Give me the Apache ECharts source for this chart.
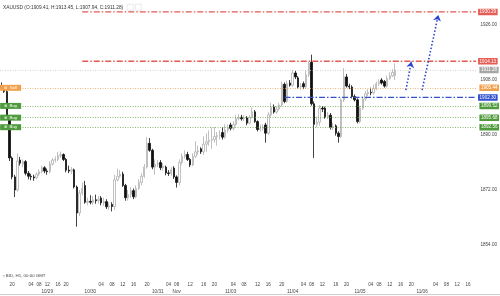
<!DOCTYPE html>
<html><head><meta charset="utf-8">
<script src="https://cdn.jsdelivr.net/npm/echarts@6/dist/echarts.min.js"></script>
<style>html,body{margin:0;padding:0;background:#fff}#c{width:500px;height:296px}</style>
</head><body><div id="c"></div>
<script>
// ---- data ----
const opens = [1906.0,1905.6,1904.2,1896.0,1882.5,1876.3,1872.0,1881.8,1880.5,1881.3,1877.5,1876.5,1876.3,1876.0,1877.2,1878.0,1879.3,1878.2,1878.0,1880.5,1881.8,1882.0,1883.2,1883.6,1882.0,1878.5,1878.2,1878.6,1873.0,1864.5,1871.0,1873.5,1868.0,1868.3,1868.0,1868.8,1868.5,1869.4,1867.8,1868.2,1866.5,1867.3,1866.6,1875.3,1876.5,1877.2,1873.5,1869.5,1870.5,1871.8,1869.8,1872.5,1874.5,1876.5,1879.5,1887.3,1885.0,1879.5,1880.5,1881.0,1879.3,1879.5,1877.6,1877.4,1879.2,1876.3,1874.5,1881.0,1883.0,1883.6,1882.0,1880.2,1883.0,1884.5,1885.5,1884.5,1887.0,1887.8,1888.3,1888.5,1889.5,1889.8,1890.8,1889.3,1891.6,1893.3,1892.2,1893.5,1895.4,1895.8,1895.3,1895.6,1893.9,1895.7,1897.6,1894.4,1891.8,1892.2,1893.3,1890.6,1896.6,1899.2,1897.5,1898.5,1899.8,1906.6,1901.0,1907.0,1906.3,1910.3,1908.7,1905.7,1906.8,1905.8,1909.7,1913.8,1900.2,1893.5,1894.2,1898.8,1898.8,1896.0,1896.5,1892.5,1893.0,1890.6,1889.5,1901.5,1909.0,1906.0,1905.7,1902.6,1901.5,1894.4,1898.8,1901.8,1903.5,1904.0,1903.8,1905.2,1906.8,1908.0,1907.5,1906.0,1908.5,1909.4,1909.41];
const highs = [1907.2,1906.2,1904.8,1896.5,1883.0,1877.0,1884.0,1882.8,1882.0,1881.8,1878.2,1877.3,1877.0,1877.8,1878.8,1880.0,1879.8,1879.0,1881.5,1882.5,1883.0,1884.5,1884.6,1884.0,1882.5,1880.0,1879.5,1879.0,1873.5,1872.0,1874.5,1875.0,1869.5,1870.3,1870.0,1870.5,1870.0,1870.0,1869.5,1869.0,1868.0,1868.0,1877.0,1879.0,1878.5,1878.0,1874.0,1872.0,1873.0,1872.5,1873.5,1875.5,1877.5,1880.5,1889.3,1889.0,1885.5,1882.0,1881.8,1881.8,1880.8,1880.0,1878.5,1879.5,1879.8,1876.8,1882.0,1884.0,1885.0,1884.5,1882.5,1884.0,1888.0,1886.5,1886.0,1889.5,1890.5,1891.5,1892.5,1892.6,1891.0,1891.5,1892.5,1893.5,1893.5,1894.0,1894.5,1896.5,1896.8,1896.6,1896.5,1896.2,1896.5,1899.0,1898.2,1894.8,1893.5,1893.5,1894.0,1897.5,1900.5,1900.0,1899.5,1900.5,1907.5,1907.2,1907.8,1908.0,1911.3,1911.0,1909.3,1907.0,1907.5,1911.0,1914.0,1916.3,1901.0,1896.0,1899.8,1899.5,1899.3,1897.5,1897.2,1894.0,1893.5,1891.2,1902.0,1911.9,1910.0,1906.8,1906.3,1903.3,1902.0,1899.5,1902.5,1904.5,1905.0,1905.5,1906.5,1907.5,1908.2,1908.6,1908.0,1909.5,1910.5,1911.5,1913.45];
const lows = [1905.2,1903.8,1895.0,1881.5,1875.5,1869.7,1871.5,1880.0,1879.5,1876.8,1875.5,1875.2,1875.0,1875.5,1876.5,1877.5,1877.5,1877.0,1877.5,1880.0,1881.0,1881.5,1882.5,1881.5,1877.8,1877.5,1877.2,1872.5,1860.0,1863.5,1870.2,1867.5,1867.0,1867.3,1867.2,1867.5,1867.6,1867.0,1866.8,1865.8,1865.5,1865.0,1865.5,1874.8,1876.0,1873.0,1868.5,1868.5,1869.5,1869.0,1869.3,1872.0,1873.5,1876.0,1879.0,1884.5,1878.8,1877.0,1879.5,1878.5,1878.3,1876.8,1876.6,1876.7,1875.6,1872.8,1873.5,1880.3,1882.3,1881.5,1879.5,1879.8,1882.5,1883.5,1883.8,1883.5,1884.5,1886.5,1885.5,1887.5,1886.5,1888.5,1888.5,1888.8,1890.8,1891.5,1891.5,1893.0,1894.8,1894.7,1894.6,1893.2,1893.5,1895.4,1894.0,1891.2,1891.2,1891.5,1887.5,1890.0,1896.0,1897.0,1897.0,1898.0,1899.3,1900.4,1900.5,1905.8,1905.8,1908.3,1905.2,1904.8,1905.0,1905.2,1909.0,1899.6,1882.5,1892.5,1893.0,1897.5,1895.3,1895.2,1891.8,1891.6,1889.8,1887.5,1889.0,1900.8,1905.5,1905.0,1902.0,1901.0,1893.8,1893.8,1898.2,1901.2,1902.8,1903.0,1903.2,1904.7,1906.0,1906.5,1905.5,1905.5,1908.0,1909.0,1907.94];
const closes = [1905.6,1904.2,1896.0,1882.5,1876.3,1872.0,1881.5,1880.8,1881.3,1877.5,1876.5,1876.3,1876.0,1877.2,1878.0,1879.3,1878.2,1878.0,1880.5,1881.8,1882.0,1883.2,1883.6,1882.0,1878.5,1878.2,1878.6,1873.0,1864.5,1871.0,1872.5,1868.0,1868.3,1868.0,1868.8,1868.5,1869.0,1867.8,1868.2,1866.5,1866.8,1866.6,1875.3,1876.5,1877.2,1873.5,1869.5,1870.5,1871.8,1869.8,1872.5,1874.5,1876.5,1879.5,1887.3,1885.0,1879.5,1880.5,1880.8,1879.3,1879.8,1877.6,1877.4,1878.6,1876.3,1874.5,1881.0,1883.0,1883.6,1882.0,1880.2,1883.0,1884.5,1884.8,1884.5,1887.0,1887.8,1888.3,1888.5,1889.5,1889.8,1890.0,1889.3,1891.6,1892.3,1892.2,1893.5,1895.4,1895.8,1895.3,1895.6,1893.9,1895.7,1897.6,1894.4,1891.8,1892.2,1892.6,1890.6,1896.6,1899.2,1897.5,1898.5,1899.8,1906.6,1901.0,1906.8,1906.3,1910.3,1909.0,1905.7,1906.0,1905.8,1909.7,1913.5,1900.2,1893.5,1894.2,1898.8,1898.5,1896.0,1896.5,1892.5,1892.8,1890.6,1889.5,1901.5,1909.0,1906.0,1905.7,1902.6,1901.5,1894.4,1898.8,1901.8,1903.5,1904.0,1903.8,1905.2,1906.8,1907.3,1907.0,1906.0,1908.5,1909.4,1910.5,1911.28];
const totalSlots = 177;            // hourly slots incl. empty future area
const hourTicks = [[4,'20'],[11,'04'],[14,'08'],[17,'12'],[21,'16'],[24,'20'],[37,'04'],[41,'08'],[45,'12'],[49,'16'],[54,'20'],[62,'04'],[65,'08'],[70,'12'],[75,'16'],[79,'20'],[86,'04'],[90,'08'],[95,'12'],[99,'16'],[104,'20'],[112,'04'],[115,'08'],[119,'12'],[124,'16'],[128,'20'],[137,'04'],[140,'08'],[144,'12'],[148,'16'],[152,'20'],[161,'04'],[165,'08'],[169,'12'],[173,'16']];
const dateTicks = [[17,'10/29'],[33,'10/30'],[58,'10/31'],[65,'Nov'],[85,'11/03'],[108,'11/04'],[133,'11/05'],[156,'11/06']];
const yTicks = [1854, 1872, 1890, 1908, 1926];
const resistLevels = [1930.29, 1914.13];   // red dash-dot
const resistStart = 30;
const lastPrice = 1911.28;
const sellLevel = 1905.44;
const entryLevel = 1902.30;               // blue dash-dot
const entryStart = 105;
const buyLevels = [1899.52, 1895.68, 1892.56];
const arrowFrom = [[150, 1904.7], [156, 1904.7]];
const arrowTo = [[152, 1914.0], [162, 1929.3]];

// ---- chart ----
const FONT = 'Liberation Sans, Arial, sans-serif';
const slots = Array.from({length: totalSlots}, (_, i) => String(i));
const candles = opens.map((o, i) => [o, closes[i], lows[i], highs[i]]);
const hourMap = new Map(hourTicks);
const dateMap = new Map(dateTicks);
const lastIdx = totalSlots - 1;

function boxLabel(bg) {
  return {show: true, position: 'end', distance: 2, formatter: p => Number(p.value).toFixed(2),
    color: '#fff', backgroundColor: bg, fontSize: 4.6, fontFamily: FONT,
    padding: [1, 1.5, 0.5, 1.5], borderRadius: 0.5};
}
const dotted = (c) => ({color: c, width: 0.8, type: [1, 1.5], opacity: 1});

function markSeries(name, markLine) {
  return {type: 'line', name, data: [], xAxisIndex: 0, yAxisIndex: 0, silent: true,
    markLine: Object.assign({silent: true, symbol: ['none', 'none'], animation: false}, markLine)};
}
// horizontal level drawn as a line series through the axes, with its price tag as end label
function levelSeries(name, start, v, color, bg) {
  return {type: 'line', name, silent: true, symbol: 'none', z: 4,
    data: [[String(start), v], [String(lastIdx), v]],
    lineStyle: {color: color, width: 1.3, type: [6, 2, 1.5, 2]},
    endLabel: {show: true, distance: 2, formatter: () => v.toFixed(2), color: '#fff', backgroundColor: bg,
      fontSize: 4.6, fontFamily: FONT, padding: [1, 1.5, 0.5, 1.5], borderRadius: 0.5}};
}

const tagPoints = [];
tagPoints.push({coord: ['3', sellLevel], value: 'Sell', itemStyle: {color: '#f3a04c'}});
buyLevels.forEach(v => tagPoints.push({coord: ['3', v], value: 'Buy', itemStyle: {color: '#4f9a3c'}}));

const chart = echarts.init(document.getElementById('c'), null, {renderer: 'canvas'});
chart.setOption({
  animation: false,
  backgroundColor: '#fff',
  textStyle: {fontFamily: FONT},
  grid: {left: 0, right: 22, top: 0, bottom: 18, containLabel: false},
  xAxis: [{
    type: 'category', data: slots, boundaryGap: true,
    axisLine: {show: false}, axisTick: {show: false}, splitLine: {show: false},
    axisLabel: {interval: (i) => hourMap.has(i), formatter: (v, i) => hourMap.get(i) || '',
      fontSize: 4.6, color: '#444', margin: 4, fontFamily: FONT}
  }, {
    type: 'category', data: slots, boundaryGap: true, position: 'bottom', offset: 7,
    axisLine: {show: false}, axisTick: {show: false}, splitLine: {show: false},
    axisLabel: {interval: (i) => dateMap.has(i), formatter: (v, i) => dateMap.get(i) || '',
      fontSize: 4.6, color: '#444', margin: 4, fontFamily: FONT}
  }],
  yAxis: {
    type: 'value', position: 'right', min: 1843.21, max: 1934.18, scale: true,
    axisLine: {show: false}, axisTick: {show: false}, splitLine: {show: false},
    axisLabel: {customValues: yTicks, formatter: v => v.toFixed(2), fontSize: 4.6, color: '#444', margin: 3, fontFamily: FONT}
  },
  series: [
    markSeries('lastPrice', {lineStyle: dotted('#c8c8c8'), label: boxLabel('#a6a6a6'), data: [{yAxis: lastPrice}]}),
    markSeries('sell', {lineStyle: dotted('#eaa55c'), label: boxLabel('#f0a150'), data: [{yAxis: sellLevel}]}),
    markSeries('buys', {lineStyle: dotted('#6aa84f'), label: boxLabel('#4f9a3c'), data: buyLevels.map(v => ({yAxis: v}))}),
    levelSeries('resist1', resistStart, resistLevels[0], '#e05a52', '#e45e55'),
    levelSeries('resist2', resistStart, resistLevels[1], '#e05a52', '#e45e55'),
    levelSeries('entry', entryStart, entryLevel, '#3552c8', '#2f50d0'),
    {
      type: 'candlestick', xAxisIndex: 0, data: candles, barWidth: 1.9, z: 3,
      itemStyle: {color: '#ffffff', color0: '#111111', borderColor: '#b0b0b0', borderColor0: '#111111', borderWidth: 0.8},
      markPoint: {silent: true, symbol: 'rect', symbolSize: [21, 6], symbolOffset: [1.2, 0],
        label: {show: true, formatter: p => '\u2297  ' + p.value, color: '#fff', fontSize: 4.4, fontFamily: FONT},
        data: tagPoints}
    },
    markSeries('arrows', {symbol: ['none', 'arrow'], symbolSize: 6, lineStyle: {color: '#2a45cc', width: 1.6, type: [1.5, 2]},
      label: {show: false},
      data: arrowFrom.map((a, i) => [{coord: [String(a[0]), a[1]]}, {coord: [String(arrowTo[i][0]), arrowTo[i][1]]}])})
  ],
  graphic: [
    {type: 'text', left: 3, top: 5, style: {text: `XAUUSD (O:${opens[opens.length-1]}, H:${highs[highs.length-1]}, L:${lows[lows.length-1]}, C:${closes[closes.length-1]})`, fontSize: 4.8, fill: '#333', fontFamily: FONT}},
    {type: 'rect', left: 127, top: 4, shape: {width: 6, height: 6}, style: {fill: '#fff', stroke: '#ddd', lineWidth: 0.6}},
    {type: 'rect', left: 135, top: 4, shape: {width: 6, height: 6}, style: {fill: '#fff', stroke: '#ddd', lineWidth: 0.6}},
    {type: 'text', left: 3, top: 274, style: {text: '\u25ab BID, H1, 00:00 GMT', fontSize: 4.4, fill: '#444', fontFamily: FONT}},
    {type: 'rect', left: 0, top: 294, shape: {width: 500, height: 0.8}, style: {fill: '#bdbdbd'}}
  ]
});
</script></body></html>
